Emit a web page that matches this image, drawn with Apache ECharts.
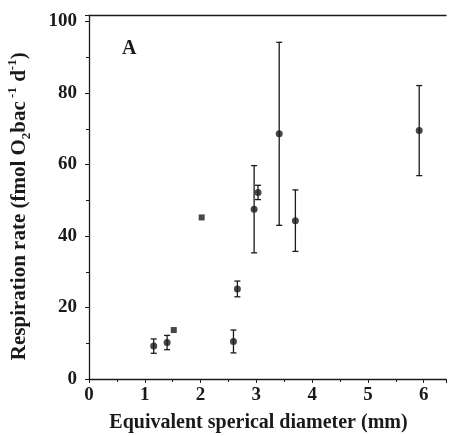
<!DOCTYPE html>
<html>
<head>
<meta charset="utf-8">
<script src="https://cdn.jsdelivr.net/npm/echarts@6/dist/echarts.min.js"></script>
<style>html,body{margin:0;padding:0;background:#fff}#c{width:449px;height:436px}</style>
</head>
<body>
<div id="c"></div>
<script>
// Data
const diameters = [1.16, 1.40, 1.52, 2.02, 2.59, 2.66, 2.96, 3.03, 3.41, 3.70, 5.92];
const rates     = [9.2, 10.2, 13.7, 45.2, 10.5, 25.2, 47.5, 52.2, 68.6, 44.3, 69.5];
const errors    = [2.0, 2.0, 0, 0, 3.2, 2.2, 12.2, 2.0, 25.6, 8.6, 12.6];
const markers   = ['circle','circle','rect','rect','circle','circle','circle','circle','circle','circle','circle'];
const xTicks = [0, 1, 2, 3, 4, 5, 6];
const yTicks = [0, 20, 40, 60, 80, 100];

const INK = '#1a1a1a';
const FONT = '"Liberation Serif", "Times New Roman", serif';

const pts = diameters.map((d, i) => ({
  value: [d, rates[i]],
  symbol: markers[i],
  symbolSize: markers[i] === 'rect' ? 6 : 7
}));
const bars = diameters.map((d, i) => [d, rates[i] - errors[i], rates[i] + errors[i]]).filter((b, i) => errors[i] > 0);

const chart = echarts.init(document.getElementById('c'), null, {renderer: 'canvas'});
chart.setOption({
  backgroundColor: '#fff',
  animation: false,
  grid: {left: 89, right: 3, top: 15.5, bottom: 57, containLabel: false, outerBoundsMode: 'none'},
  xAxis: [{
    type: 'value', min: 0, max: 6.4, interval: 1,
    axisLine: {show: true, onZero: false, lineStyle: {color: INK, width: 1.3}},
    axisTick: {show: true, inside: false, length: 4, lineStyle: {color: INK}},
    minorTick: {show: true, splitNumber: 2, length: 3, lineStyle: {color: INK}},
    splitLine: {show: false},
    axisLabel: {
      color: INK, fontFamily: FONT, fontWeight: 'bold', fontSize: 19, margin: 7,
      formatter: v => xTicks.includes(v) ? String(v) : ''
    },
    name: 'Equivalent sperical diameter (mm)',
    nameLocation: 'middle', nameGap: 34,
    nameTextStyle: {color: INK, fontFamily: FONT, fontWeight: 'bold', fontSize: 20, verticalAlign: 'top', padding: [0, 18, 0, 0]}
  }, {
    type: 'value', position: 'top', min: 0, max: 6.4,
    axisLine: {show: true, onZero: false, lineStyle: {color: INK, width: 1.3}},
    axisTick: {show: false}, axisLabel: {show: false}, splitLine: {show: false}
  }],
  yAxis: {
    type: 'value', min: 0, max: 101.7, interval: 20,
    axisLine: {show: true, onZero: false, lineStyle: {color: INK, width: 1.3}},
    axisTick: {show: true, inside: false, length: 4, lineStyle: {color: INK}},
    minorTick: {show: true, splitNumber: 2, length: 3, lineStyle: {color: INK}},
    splitLine: {show: false},
    axisLabel: {
      color: INK, fontFamily: FONT, fontWeight: 'bold', fontSize: 19, margin: 12,
      formatter: v => yTicks.includes(v) ? String(v) : ''
    },
    name: '{a|Respiration rate (fmol O}{sub|2}{a|bac}{sup| -1}{a| d}{sup|-1}{a|)}',
    nameLocation: 'middle', nameGap: 56, nameRotate: 90,
    nameTextStyle: {
      color: INK, fontFamily: FONT, fontWeight: 'bold', fontSize: 21, padding: [0, 18, 0, 0],
      rich: {
        a: {color: INK, fontFamily: FONT, fontWeight: 'bold', fontSize: 21, lineHeight: 27, verticalAlign: 'middle'},
        sub: {color: INK, fontFamily: FONT, fontWeight: 'bold', fontSize: 13, lineHeight: 27, verticalAlign: 'bottom'},
        sup: {color: INK, fontFamily: FONT, fontWeight: 'bold', fontSize: 13, lineHeight: 27, verticalAlign: 'top'}
      }
    }
  },
  graphic: [{
    type: 'text', left: 122, top: 39,
    style: {text: 'A', fill: INK, font: 'bold 20px "Liberation Serif", serif'}
  }],
  series: [{
    type: 'custom',
    data: bars,
    renderItem: function (params, api) {
      const x = api.value(0), lo = api.value(1), hi = api.value(2);
      const a = api.coord([x, lo]), b = api.coord([x, hi]);
      const w = 3;
      const st = {stroke: INK, lineWidth: 1.3};
      return {type: 'group', children: [
        {type: 'line', shape: {x1: a[0], y1: a[1], x2: b[0], y2: b[1]}, style: st},
        {type: 'line', shape: {x1: a[0] - w, y1: a[1], x2: a[0] + w, y2: a[1]}, style: st},
        {type: 'line', shape: {x1: b[0] - w, y1: b[1], x2: b[0] + w, y2: b[1]}, style: st}
      ]};
    },
    z: 1
  }, {
    type: 'scatter',
    data: pts,
    itemStyle: {color: INK},
    z: 2
  }]
});
</script>
</body>
</html>
